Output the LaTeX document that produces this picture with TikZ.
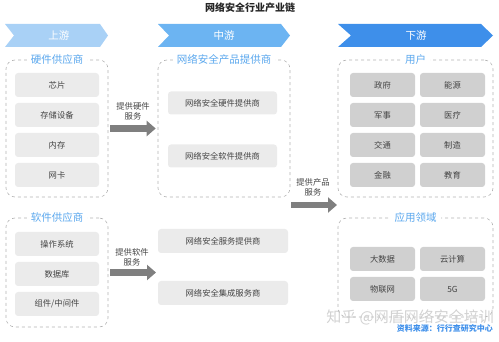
\documentclass[tikz,border=0pt]{standalone}
\usepackage{fontspec}
\setmainfont{Noto Sans CJK SC}
\usetikzlibrary{arrows.meta}
\definecolor{txt}{HTML}{444444}
\definecolor{ttl}{HTML}{5BA8EE}
\definecolor{upc}{HTML}{A9D1F6}
\definecolor{midc}{HTML}{6CB4F2}
\definecolor{dnc}{HTML}{3E8FEA}
\definecolor{lgray}{HTML}{EBEBEB}
\definecolor{dgray}{HTML}{D0D0D0}
\definecolor{dash}{HTML}{B3B3B3}
\definecolor{arr}{HTML}{7F7F7F}
\tikzset{
  group/.style={draw=dash, dashed, line width=0.6pt, rounded corners=9pt, inner sep=0pt},
  gtitle/.style={fill=white, text=ttl, font=\fontsize{10.5}{12}\selectfont, inner xsep=4pt, inner ysep=1pt},
  item/.style={fill=lgray, rounded corners=3pt, text=txt, font=\fontsize{8.3}{10}\selectfont, minimum height=24pt, inner sep=0pt},
  ditem/.style={item, fill=dgray, minimum width=65pt},
  chev/.style={text=white, font=\fontsize{10.5}{12}\selectfont},
  bigarrow/.style={draw=arr, line width=6.5pt, -{Triangle[width=15pt,length=9pt]}},
  alabel/.style={text=txt, font=\fontsize{8.3}{10}\selectfont, align=center, inner sep=0pt}
}
\begin{document}
\begin{tikzpicture}[x=1pt,y=-1pt]
\useasboundingbox (0,0) rectangle (499,342);
% title
\node[font=\bfseries\fontsize{10}{12}\selectfont, text=black!85] (title) at (250,8) {网络安全行业产业链};
% chevrons
\fill[upc] (5,24) -- (100,24) -- (108,35.5) -- (100,47) -- (5,47) -- (14,35.5) -- cycle;
\node[chev] (up) at (59,35.5) {上游};
\fill[midc] (158,24) -- (281,24) -- (290,35.5) -- (281,47) -- (158,47) -- (169,35.5) -- cycle;
\node[chev] (mid) at (224,35.5) {中游};
\fill[dnc] (338,24) -- (481,24) -- (493,35.5) -- (481,47) -- (338,47) -- (351,35.5) -- cycle;
\node[chev] (dn) at (416,35.5) {下游};
% groups
\node[group, minimum width=102pt, minimum height=137pt] (hw) at (57,128.5) {};
\node[gtitle] (hwt) at (hw.north) {硬件供应商};
\node[group, minimum width=102pt, minimum height=109pt] (sw) at (57,272.5) {};
\node[gtitle] (swt) at (sw.north) {软件供应商};
\node[group, minimum width=132pt, minimum height=137pt] (prod) at (224,128.5) {};
\node[gtitle] (prodt) at (prod.north) {网络安全产品提供商};
\node[group, minimum width=155pt, minimum height=137pt] (user) at (415.5,128.5) {};
\node[gtitle] (usert) at (user.north) {用户};
\node[group, minimum width=155pt, minimum height=99pt] (app) at (415.5,267.5) {};
\node[gtitle] (appt) at (app.north) {应用领域};
% hardware items
\node[item, minimum width=84pt] (chip) at (57,85) {芯片};
\node[item, minimum width=84pt] (stor) at (57,115) {存储设备};
\node[item, minimum width=84pt] (mem) at (57,145) {内存};
\node[item, minimum width=84pt] (nic) at (57,175) {网卡};
% software items
\node[item, minimum width=84pt] (os) at (57,244) {操作系统};
\node[item, minimum width=84pt] (db) at (57,274) {数据库};
\node[item, minimum width=84pt] (mw) at (57,304) {组件/中间件};
% product items
\node[item, minimum width=109pt, minimum height=23pt] (hwp) at (222.5,103) {网络安全硬件提供商};
\node[item, minimum width=109pt, minimum height=23pt] (swp) at (222.5,156) {网络安全软件提供商};
% lower middle items
\node[item, minimum width=130pt] (svp) at (223,241) {网络安全服务提供商};
\node[item, minimum width=130pt] (intp) at (223,293) {网络安全集成服务商};
\coordinate (swin) at (158,272.5);
% user items
\node[ditem] (gov) at (382.5,85) {政府};
\node[ditem] (energy) at (452.5,85) {能源};
\node[ditem] (mil) at (382.5,115) {军事};
\node[ditem] (med) at (452.5,115) {医疗};
\node[ditem] (traf) at (382.5,145) {交通};
\node[ditem] (manu) at (452.5,145) {制造};
\node[ditem] (fin) at (382.5,175) {金融};
\node[ditem] (edu) at (452.5,175) {教育};
% app items
\node[ditem] (bd) at (382.5,259) {大数据};
\node[ditem] (cc) at (452.5,259) {云计算};
\node[ditem] (iot) at (382.5,289) {物联网};
\node[ditem] (fiveg) at (452.5,289) {5G};
% arrows
\draw[bigarrow, shorten <=2pt, shorten >=2pt] (hw.east) -- (prod.west);
\node[alabel] (hwl) at (133,111) {提供硬件\\服务};
\draw[bigarrow, shorten <=2pt, shorten >=2pt] (sw.east) -- (swin);
\node[alabel] (swl) at (132,257) {提供软件\\服务};
\coordinate (pa) at (291,205);
\coordinate (pb) at (338,205);
\draw[bigarrow, shorten >=1pt] (pa) -- (pb);
\node[alabel] (pl) at (313,187.5) {提供产品\\服务};
% watermark and source
\node[text=gray!45, opacity=0.8, font=\fontsize{15}{17}\selectfont, anchor=east, inner sep=0pt] (wm) at (494,317) {知乎 @网盾网络安全培训};
\node[text=dnc, font=\bfseries\fontsize{8}{10}\selectfont, anchor=east, inner sep=0pt] (src) at (493,328) {资料来源：行行查研究中心};
\end{tikzpicture}
\end{document}
